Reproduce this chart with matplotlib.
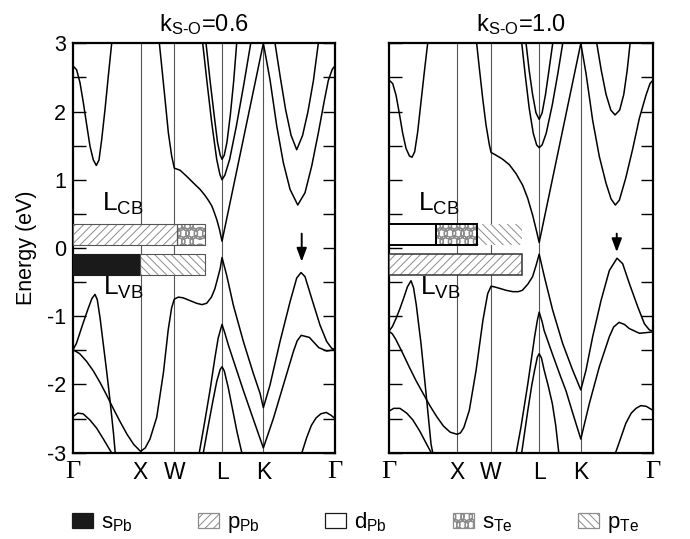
import matplotlib.pyplot as plt
import matplotlib.hatch as mhatch
from matplotlib.patches import Patch

plt.rcParams['font.family'] = ['Liberation Sans', 'DejaVu Sans']
plt.rcParams['mathtext.fontset'] = 'custom'
plt.rcParams['mathtext.rm'] = 'Liberation Sans'
plt.rcParams['mathtext.it'] = 'Liberation Sans:italic'
plt.rcParams['axes.unicode_minus'] = False
plt.rcParams['hatch.linewidth'] = 0.7
mhatch.LargeCircles.size = 0.72  # overlapping rings, scale-like pattern for s_Te

# high symmetry points along the fcc path
sym_labels = ['Γ', 'X', 'W', 'L', 'K', 'Γ']
sym_k = [0.0, 1.0, 1.5, 2.207, 2.819, 3.880]

# ---- k_S-O = 0.6 bands, (k, E in eV) ----
l_cb_gx = [(0, 2.67), (0.054, 2.61), (0.104, 2.42), (0.153, 2.13), (0.202, 1.81), (0.252, 1.49),
           (0.301, 1.29), (0.345, 1.21), (0.385, 1.29), (0.425, 1.59), (0.474, 2.03), (0.523, 2.52), (0.573, 3.0)]
l_cb_main = [(1.279, 3.0), (1.313, 2.67), (1.363, 2.18), (1.412, 1.69), (1.461, 1.35), (1.5, 1.17),
             (1.585, 1.14), (1.684, 1.05), (1.807, 0.93), (1.881, 0.86), (1.955, 0.77), (2.004, 0.70),
             (2.054, 0.62), (2.078, 0.56), (2.128, 0.42), (2.170, 0.27), (2.207, 0.10), (2.819, 3.0),
             (2.917, 2.47), (3.017, 1.79), (3.115, 1.25), (3.214, 0.86), (3.328, 0.63), (3.436, 0.81),
             (3.535, 1.20), (3.634, 1.69), (3.72, 2.15), (3.78, 2.45), (3.84, 2.62), (3.88, 2.67)]
l_cb_l1 = [(1.921, 3.0), (1.98, 2.47), (2.054, 1.84), (2.128, 1.30), (2.175, 1.08), (2.207, 1.00),
           (2.25, 1.07), (2.32, 1.30), (2.42, 1.79), (2.53, 2.40), (2.632, 3.0)]
l_cb_l2 = [(1.970, 3.0), (2.03, 2.45), (2.09, 1.95), (2.14, 1.55), (2.18, 1.36), (2.207, 1.30),
           (2.24, 1.36), (2.28, 1.55), (2.33, 1.95), (2.38, 2.45), (2.424, 3.0)]
l_cb_kg = [(2.992, 3.0), (3.07, 2.50), (3.15, 2.02), (3.23, 1.65), (3.313, 1.44), (3.40, 1.65),
           (3.48, 2.0), (3.56, 2.45), (3.633, 3.0)]
l_vb_main = [(0, -1.49), (0.10, -1.55), (0.20, -1.66), (0.30, -1.80), (0.40, -1.97), (0.50, -2.16),
             (0.60, -2.36), (0.70, -2.55), (0.80, -2.73), (0.90, -2.88), (1.0, -2.98), (1.07, -2.93),
             (1.14, -2.80), (1.24, -2.48), (1.34, -1.82), (1.41, -1.20), (1.46, -0.88), (1.5, -0.75),
             (1.56, -0.72), (1.63, -0.73), (1.73, -0.77), (1.83, -0.81), (1.91, -0.83), (1.98, -0.81),
             (2.05, -0.72), (2.10, -0.60), (2.13, -0.49), (2.18, -0.30), (2.207, -0.14), (2.276, -0.40),
             (2.375, -0.84), (2.523, -1.37), (2.671, -1.84), (2.770, -2.13), (2.819, -2.34), (2.917, -2.01),
             (3.066, -1.37), (3.214, -0.79), (3.313, -0.44), (3.377, -0.36), (3.436, -0.42), (3.535, -0.74),
             (3.658, -1.13), (3.757, -1.37), (3.831, -1.47), (3.88, -1.49)]
l_vb_peak = [(0, -1.49), (0.05, -1.40), (0.10, -1.25), (0.15, -1.10), (0.22, -0.90), (0.28, -0.74),
             (0.326, -0.68), (0.36, -0.76), (0.40, -1.02), (0.45, -1.42), (0.50, -1.82), (0.55, -2.25),
             (0.60, -2.72), (0.625, -3.0)]
l_vb_low = [(0, -2.47), (0.07, -2.42), (0.15, -2.43), (0.25, -2.52), (0.35, -2.64), (0.45, -2.80), (0.57, -3.0)]
l_vb_l2 = [(1.87, -3.0), (1.95, -2.55), (2.03, -2.08), (2.10, -1.62), (2.15, -1.32), (2.207, -1.12),
           (2.25, -1.25), (2.30, -1.42), (2.40, -1.72), (2.52, -2.08), (2.66, -2.48), (2.819, -2.93),
           (2.967, -2.50), (3.115, -2.01), (3.263, -1.52), (3.32, -1.36), (3.38, -1.28), (3.50, -1.31),
           (3.64, -1.46), (3.757, -1.51), (3.88, -1.49)]
l_vb_l3 = [(1.93, -3.0), (2.00, -2.62), (2.07, -2.25), (2.13, -1.95), (2.18, -1.78), (2.207, -1.74),
           (2.24, -1.80), (2.30, -2.05), (2.37, -2.40), (2.43, -2.70), (2.50, -3.0)]
l_vb_kg = [(3.39, -3.0), (3.46, -2.78), (3.53, -2.60), (3.60, -2.49), (3.67, -2.43), (3.75, -2.41),
           (3.82, -2.45), (3.88, -2.50)]

# ---- k_S-O = 1.0 bands ----
r_cb_gx = [(0, 2.46), (0.054, 2.41), (0.103, 2.24), (0.152, 1.97), (0.201, 1.68), (0.250, 1.46),
           (0.299, 1.35), (0.338, 1.33), (0.377, 1.41), (0.421, 1.70), (0.470, 2.14), (0.519, 2.58), (0.568, 3.0)]
r_cb_main = [(1.288, 3.0), (1.328, 2.63), (1.377, 2.19), (1.426, 1.80), (1.475, 1.51), (1.5, 1.40),
             (1.573, 1.36), (1.671, 1.30), (1.769, 1.22), (1.867, 1.09), (1.964, 0.92), (2.038, 0.73),
             (2.111, 0.48), (2.170, 0.24), (2.207, 0.08), (2.819, 3.0), (2.895, 2.56), (2.993, 1.87),
             (3.091, 1.34), (3.189, 0.95), (3.263, 0.72), (3.326, 0.63), (3.385, 0.70), (3.478, 1.02),
             (3.581, 1.45), (3.679, 1.90), (3.777, 2.24), (3.836, 2.41), (3.88, 2.46)]
r_cb_l1 = [(1.951, 3.0), (2.00, 2.55), (2.06, 2.05), (2.12, 1.68), (2.17, 1.51), (2.207, 1.47),
           (2.25, 1.51), (2.31, 1.68), (2.40, 2.10), (2.48, 2.55), (2.553, 3.0)]
r_cb_l2 = [(2.014, 3.0), (2.06, 2.60), (2.11, 2.25), (2.16, 1.98), (2.207, 1.885), (2.25, 1.98),
           (2.30, 2.25), (2.35, 2.60), (2.406, 3.0)]
r_cb_kg = [(3.053, 3.0), (3.12, 2.60), (3.19, 2.25), (3.26, 2.02), (3.322, 1.95), (3.39, 2.02),
           (3.45, 2.25), (3.50, 2.60), (3.543, 3.0)]
r_vb_main = [(0, -1.22), (0.05, -1.26), (0.10, -1.34), (0.20, -1.54), (0.30, -1.75), (0.40, -1.95),
             (0.50, -2.13), (0.60, -2.31), (0.70, -2.47), (0.80, -2.61), (0.90, -2.70), (1.0, -2.73),
             (1.05, -2.71), (1.10, -2.63), (1.18, -2.38), (1.28, -1.79), (1.38, -1.06), (1.45, -0.67),
             (1.5, -0.56), (1.55, -0.57), (1.62, -0.59), (1.72, -0.62), (1.82, -0.64), (1.90, -0.64),
             (1.96, -0.62), (2.04, -0.53), (2.11, -0.42), (2.16, -0.26), (2.207, -0.09), (2.283, -0.42),
             (2.405, -0.91), (2.552, -1.40), (2.699, -1.79), (2.819, -2.08), (2.895, -1.79), (2.993, -1.30),
             (3.116, -0.77), (3.238, -0.33), (3.351, -0.15), (3.434, -0.23), (3.532, -0.52), (3.655, -0.86),
             (3.753, -1.11), (3.826, -1.20), (3.88, -1.22)]
r_vb_peak = [(0, -1.22), (0.05, -1.15), (0.10, -1.04), (0.16, -0.89), (0.22, -0.72), (0.27, -0.57),
             (0.323, -0.48), (0.36, -0.58), (0.40, -0.83), (0.47, -1.40), (0.544, -2.13), (0.617, -2.87),
             (0.642, -3.0)]
r_vb_low = [(0, -2.39), (0.07, -2.35), (0.16, -2.35), (0.26, -2.42), (0.35, -2.52), (0.45, -2.68),
            (0.54, -2.85), (0.62, -3.0)]
r_vb_l2 = [(1.87, -3.0), (1.94, -2.62), (2.04, -1.99), (2.14, -1.30), (2.18, -1.06), (2.207, -0.94),
           (2.25, -1.08), (2.28, -1.21), (2.40, -1.55), (2.52, -1.88), (2.60, -2.09), (2.70, -2.42),
           (2.819, -2.80), (2.944, -2.28), (3.091, -1.74), (3.238, -1.30), (3.30, -1.16), (3.38, -1.09),
           (3.46, -1.12), (3.53, -1.18), (3.68, -1.25), (3.88, -1.23)]
r_vb_l3 = [(1.95, -3.0), (2.04, -2.38), (2.10, -2.0), (2.14, -1.79), (2.18, -1.60), (2.207, -1.55),
           (2.24, -1.61), (2.28, -1.79), (2.34, -2.02), (2.40, -2.28), (2.45, -2.60), (2.495, -3.0)]
r_vb_kg = [(3.33, -3.0), (3.40, -2.80), (3.48, -2.57), (3.56, -2.42), (3.63, -2.35), (3.70, -2.31),
           (3.78, -2.32), (3.88, -2.38)]

left_bands = [l_cb_gx, l_cb_main, l_cb_l1, l_cb_l2, l_cb_kg,
              l_vb_main, l_vb_peak, l_vb_low, l_vb_l2, l_vb_l3, l_vb_kg]
right_bands = [r_cb_gx, r_cb_main, r_cb_l1, r_cb_l2, r_cb_kg,
               r_vb_main, r_vb_peak, r_vb_low, r_vb_l2, r_vb_l3, r_vb_kg]

# orbital character (%) of the L-point band edges
orbitals = ['sPb', 'pPb', 'dPb', 'sTe', 'pTe']
orb_labels = ['s$_{\\rm Pb}$', 'p$_{\\rm Pb}$', 'd$_{\\rm Pb}$', 's$_{\\rm Te}$', 'p$_{\\rm Te}$']
left_cb_orb = ['pPb', 'sTe']
left_cb_pct = [79, 21]
left_vb_orb = ['sPb', 'pTe']
left_vb_pct = [51, 49]
right_cb_orb = ['dPb', 'sTe', 'pTe']
right_cb_pct = [35, 31, 34]
right_vb_orb = ['pPb']
right_vb_pct = [100]

titles = ['k$_{\\rm S\u2010O}$=0.6', 'k$_{\\rm S\u2010O}$=1.0']
arrow_k = [3.387, 3.347]
arrow_e = [(0.21, -0.20), (0.21, -0.06)]

hatch_gray = '#8c8c8c'
orb_style = {
    'sPb': dict(fc='#1a1a1a', hatch=None),
    'pPb': dict(fc='white', hatch='////'),
    'dPb': dict(fc='white', hatch=None),
    'sTe': dict(fc='white', hatch='OO'),
    'pTe': dict(fc='white', hatch='\\\\\\\\'),
}
bar_span = 1.955   # k-length of a 100% bar
cb_y, vb_y, bar_h = 0.20, -0.245, 0.30


def draw_bar(ax, y, orbs, pcts, edges):
    left = 0.0
    for o, p, ec in zip(orbs, pcts, edges):
        w = p / 100 * bar_span
        st = orb_style[o]
        ax.barh(y, w, left=left, height=bar_h, color=st['fc'], hatch=st['hatch'],
                edgecolor=hatch_gray if o != 'sPb' else '#1a1a1a', linewidth=0, zorder=3)
        if ec is not None:
            ax.barh(y, w, left=left, height=bar_h, fill=False, edgecolor=ec[0],
                    linewidth=ec[1], zorder=4)
        left += w


fig = plt.figure(figsize=(6.9, 5.39), dpi=100)
ax1 = fig.add_axes([0.1058, 0.1601, 0.3797, 0.7596])
ax2 = fig.add_axes([0.5638, 0.1601, 0.3826, 0.7596])

for i, (ax, bands) in enumerate([(ax1, left_bands), (ax2, right_bands)]):
    for kx in sym_k[1:-1]:
        ax.axvline(kx, color='#555555', lw=0.8, zorder=1)
    for b in bands:
        ks = [p[0] for p in b]
        es = [p[1] for p in b]
        ax.plot(ks, es, color='black', lw=1.1, zorder=2, solid_joinstyle='round')
    ax.set_xlim(sym_k[0], sym_k[-1])
    ax.set_ylim(-3, 3)
    ax.set_xticks(sym_k)
    ax.set_xticklabels(sym_labels, fontsize=16.5)
    for t in ax.get_xticklabels():
        if t.get_text() == 'Γ':
            t.set_fontfamily('Liberation Serif')
            t.set_fontsize(19)
    ax.set_yticks(range(-3, 4))
    ax.set_yticks([-2.5, -1.5, -0.5, 0.5, 1.5, 2.5], minor=True)
    ax.tick_params(axis='y', which='both', direction='in', length=9, width=1.0,
                   left=True, right=True, labelsize=15.5, pad=5)
    ax.tick_params(axis='x', length=0, pad=6)
    for s in ax.spines.values():
        s.set_linewidth(1.6)
    ax.set_title(titles[i], fontsize=17, pad=9)
    ax.annotate('', xy=(arrow_k[i], arrow_e[i][1]), xytext=(arrow_k[i], arrow_e[i][0]),
                arrowprops=dict(arrowstyle='-|>,head_length=0.8,head_width=0.3',
                                color='black', lw=1.4, mutation_scale=10,
                                shrinkA=0, shrinkB=0))
    ax.text(0.43, 0.54, 'L$_{\\rm CB}$', fontsize=19, ha='left', va='baseline', zorder=5)
    ax.text(0.45, -0.69, 'L$_{\\rm VB}$', fontsize=19, ha='left', va='baseline', zorder=5)

ax2.tick_params(axis='y', which='both', labelleft=False)
ax1.set_ylabel('Energy (eV)', fontsize=15.5, labelpad=7)

thin = ('#555555', 0.8)
draw_bar(ax1, cb_y, left_cb_orb, left_cb_pct, [thin, thin])
draw_bar(ax1, vb_y, left_vb_orb, left_vb_pct, [('#1a1a1a', 0.8), thin])
draw_bar(ax2, cb_y, right_cb_orb, right_cb_pct, [('black', 1.4), ('black', 1.4), None])
draw_bar(ax2, vb_y, right_vb_orb, right_vb_pct, [('#333333', 1.1)])

handles = []
for o in orbitals:
    st = orb_style[o]
    ec = '#1a1a1a' if o in ('sPb', 'dPb') else hatch_gray
    handles.append(Patch(facecolor=st['fc'], hatch=st['hatch'], edgecolor=ec, linewidth=0.9))
fig.legend(handles, orb_labels, loc='center', bbox_to_anchor=(0.515, 0.03), ncol=5,
           frameon=False, fontsize=16, handlelength=0.95, handleheight=0.62,
           handletextpad=0.35, columnspacing=2.95)

fig.savefig('out.png', dpi=100)
